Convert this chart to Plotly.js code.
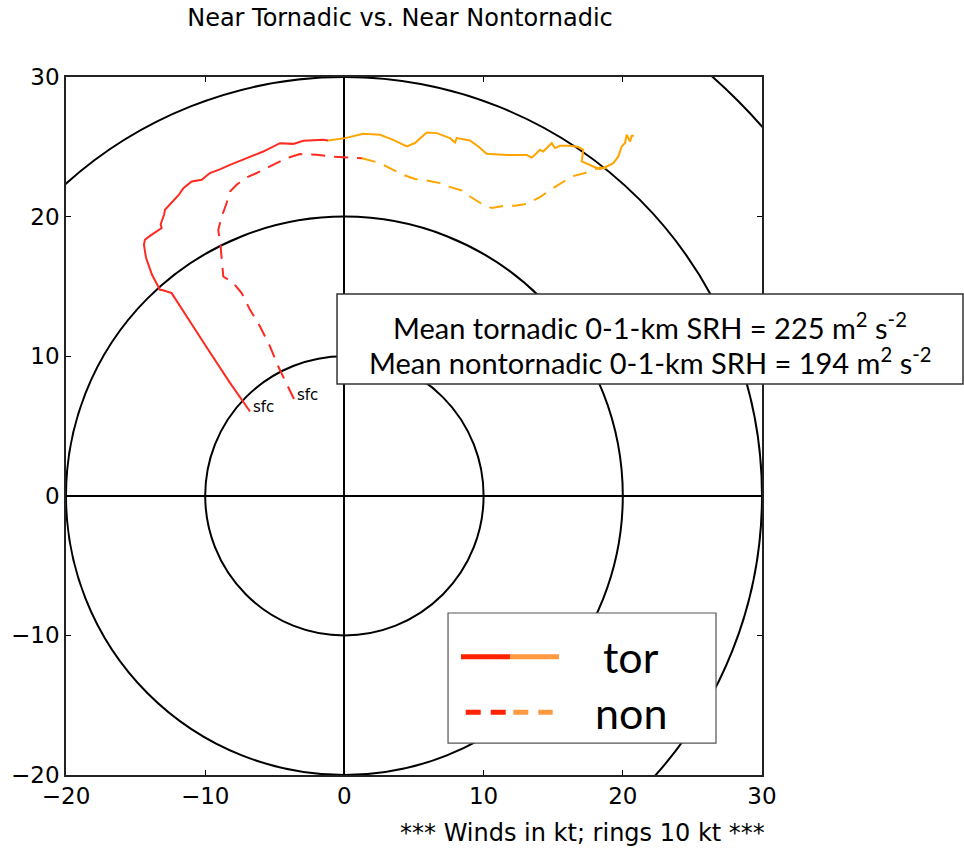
<!DOCTYPE html>
<html>
<head>
<meta charset="utf-8">
<script src="https://cdn.plot.ly/plotly-3.0.1.min.js"></script>
<style>
  html, body { margin: 0; padding: 0; background: #fff; }
  #hodo { width: 964px; height: 853px; }
</style>
</head>
<body>
<div id="hodo"></div>
<script>
// Composite hodographs (u, v in kt), surface first.
// Each profile is split into its lowest layer (red) and the layer above (orange).
const torLowU = [-6.78, -8.22, -9.78, -11.09, -12.41, -13.03, -13.25, -13.82, -14.25, -14.40, -14.33,
  -13.97, -13.48, -13.13, -13.20, -13.01, -12.95, -12.89, -12.60, -12.29, -11.90, -11.57, -10.97,
  -10.25, -9.66, -8.90, -8.22, -7.02, -5.83, -4.63, -3.67, -2.95, -1.52, -1.16];
const torLowV = [6.04, 8.09, 10.46, 12.46, 14.52, 14.72, 14.76, 15.83, 17.05, 17.98, 18.34,
  18.62, 18.93, 19.18, 19.45, 19.89, 20.15, 20.49, 20.80, 21.20, 21.55, 22.04, 22.51,
  22.64, 23.12, 23.40, 23.71, 24.19, 24.66, 25.26, 25.21, 25.43, 25.50, 25.45];
const torHighU = [-1.16, 0.04, 1.36, 2.56, 3.51, 4.48, 5.07, 5.91, 6.63, 7.59, 7.95, 8.07, 9.02,
  9.62, 10.22, 11.66, 13.10, 13.46, 13.69, 14.05, 14.29, 14.89, 15.13, 15.49, 16.21, 16.80,
  17.16, 17.05, 17.88, 18.36, 18.84, 19.32, 19.68, 19.92, 20.16, 20.28, 20.52, 20.64, 20.80];
const torHighV = [25.45, 25.62, 25.93, 25.86, 25.50, 25.02, 25.27, 26.02, 25.98, 25.62, 25.31, 25.62, 25.45,
  25.02, 24.50, 24.41, 24.41, 24.23, 24.43, 24.79, 24.66, 25.26, 24.91, 25.07, 25.07, 24.98,
  24.79, 23.95, 23.59, 23.40, 23.59, 23.83, 24.31, 25.02, 25.27, 25.86, 25.38, 25.79, 25.79];

const nonLowU = [-3.62, -4.39, -4.75, -5.34, -6.06, -6.78, -7.38, -7.98, -8.70, -8.81, -8.89,
  -9.06, -8.81, -8.46, -8.22, -7.74, -7.14, -6.30, -5.34, -4.15, -3.19, -1.99, -1.03, 0.17, 1.26];
const nonLowV = [6.93, 8.55, 9.26, 10.69, 12.13, 13.32, 14.52, 15.24, 15.71, 16.91, 17.86,
  19.05, 20.01, 20.97, 21.80, 22.28, 22.76, 23.12, 23.59, 24.19, 24.48, 24.43, 24.31, 24.23, 24.18];
const nonHighU = [1.26, 1.84, 2.56, 3.51, 4.23, 5.07, 5.91, 6.87, 7.46, 8.43, 9.02, 9.86, 10.58,
  11.42, 12.26, 13.10, 14.05, 14.89, 15.73, 16.33, 17.28, 17.88, 18.36, 18.84];
const nonHighV = [24.18, 24.02, 23.83, 23.35, 22.99, 22.69, 22.59, 22.40, 22.16, 21.87, 21.44, 20.92, 20.61,
  20.77, 20.77, 20.92, 21.40, 21.97, 22.51, 22.87, 23.12, 23.35, 23.52, 23.47];

const ringRadii = [10, 20, 30, 40];
const tickVals = [-20, -10, 0, 10, 20, 30];
const tickText = ['\u221220', '\u221210', '0', '10', '20', '30'];

const srhTor = 225;
const srhNon = 194;

const RED = '#ff2a1f';
const ORANGE = '#ffa500';
const LEG_RED = '#ff2200';
const LEG_ORANGE = '#ff9a40';

const TICK_FONT = { family: 'DejaVu Sans', size: 23, color: '#000' };
const GILL = 'Lato, "Open Sans", sans-serif';

function hodoTrace(u, v, color, dash) {
  return {
    type: 'scatter', mode: 'lines', x: u, y: v, hoverinfo: 'skip', showlegend: false,
    line: { color: color, width: 2, dash: dash, shape: 'linear' }
  };
}

const traces = [
  hodoTrace(torLowU, torLowV, RED, 'solid'),
  hodoTrace(torHighU, torHighV, ORANGE, 'solid'),
  hodoTrace(nonLowU, nonLowV, RED, '14px,9px'),
  hodoTrace(nonHighU, nonHighV, ORANGE, '14px,9px')
];

// speed rings
const shapes = ringRadii.map(r => ({
  type: 'circle', xref: 'x', yref: 'y', x0: -r, y0: -r, x1: r, y1: r,
  line: { color: '#000', width: 2 }, layer: 'below'
}));

// SRH box
shapes.push({
  type: 'rect', xref: 'paper', yref: 'paper', x0: 0.3894, x1: 1.2888, y0: 0.5602, y1: 0.6891,
  fillcolor: '#fff', line: { color: '#333', width: 1.5 }, layer: 'above'
});
// legend box and samples
shapes.push({
  type: 'rect', xref: 'paper', yref: 'paper', x0: 0.5489, x1: 0.9339, y0: 0.0458, y1: 0.2321,
  fillcolor: '#fff', line: { color: '#555', width: 1.2 }, layer: 'above'
});
shapes.push({ type: 'line', xref: 'paper', yref: 'paper', x0: 0.5675, x1: 0.6379, y0: 0.1695, y1: 0.1695,
  line: { color: LEG_RED, width: 5 }, layer: 'above' });
shapes.push({ type: 'line', xref: 'paper', yref: 'paper', x0: 0.6379, x1: 0.7083, y0: 0.1695, y1: 0.1695,
  line: { color: LEG_ORANGE, width: 5 }, layer: 'above' });
shapes.push({ type: 'line', xref: 'paper', yref: 'paper', x0: 0.5743, x1: 0.6318, y0: 0.0898, y1: 0.0898,
  line: { color: LEG_RED, width: 5, dash: '15px,10px' }, layer: 'above' });
shapes.push({ type: 'line', xref: 'paper', yref: 'paper', x0: 0.6427, x1: 0.6993, y0: 0.0898, y1: 0.0898,
  line: { color: LEG_ORANGE, width: 5, dash: '15px,10px' }, layer: 'above' });

const annotations = [
  { xref: 'x', yref: 'y', x: torLowU[0], y: torLowV[0], text: 'sfc', showarrow: false,
    xanchor: 'left', yanchor: 'middle', xshift: 1, yshift: 4,
    font: { family: 'DejaVu Sans', size: 15, color: '#000' } },
  { xref: 'x', yref: 'y', x: nonLowU[0], y: nonLowV[0], text: 'sfc', showarrow: false,
    xanchor: 'left', yanchor: 'middle', xshift: 1, yshift: 4,
    font: { family: 'DejaVu Sans', size: 15, color: '#000' } },
  { xref: 'paper', yref: 'paper', x: 0.8391, y: 0.6433, text: 'Mean tornadic 0-1-km SRH = ' + srhTor + ' m<sup>2</sup> s<sup>-2</sup>',
    showarrow: false, xanchor: 'center', yanchor: 'middle', font: { family: GILL, size: 29, color: '#000' } },
  { xref: 'paper', yref: 'paper', x: 0.8391, y: 0.5932, text: 'Mean nontornadic 0-1-km SRH = ' + srhNon + ' m<sup>2</sup> s<sup>-2</sup>',
    showarrow: false, xanchor: 'center', yanchor: 'middle', font: { family: GILL, size: 29, color: '#000' } },
  { xref: 'paper', yref: 'paper', x: 0.8118, y: 0.1700, text: 'tor', showarrow: false,
    xanchor: 'center', yanchor: 'middle', font: { family: GILL, size: 43, color: '#000' } },
  { xref: 'paper', yref: 'paper', x: 0.8118, y: 0.0890, text: 'non', showarrow: false,
    xanchor: 'center', yanchor: 'middle', font: { family: GILL, size: 43, color: '#000' } },
  { xref: 'paper', yref: 'paper', x: 0.7428, y: -0.0831, text: '*** Winds in kt; rings 10 kt ***',
    showarrow: false, xanchor: 'center', yanchor: 'middle', font: { family: 'DejaVu Sans', size: 24, color: '#000' } }
];

const axisCommon = {
  range: [-20, 30], tickmode: 'array', tickvals: tickVals, ticktext: tickText,
  ticks: 'inside', ticklen: 5, tickwidth: 1, tickcolor: '#000',
  showline: true, linecolor: '#222', linewidth: 1.8, mirror: 'ticks',
  showgrid: false, zeroline: true, zerolinecolor: '#000', zerolinewidth: 2,
  tickfont: TICK_FONT, fixedrange: true
};

const layout = {
  width: 964, height: 853,
  margin: { l: 66, r: 202, t: 77, b: 78 },
  paper_bgcolor: '#fff', plot_bgcolor: '#fff',
  title: { text: 'Near Tornadic vs. Near Nontornadic', x: 0.4149, xref: 'container', xanchor: 'center',
    y: 0.979, yref: 'container', yanchor: 'middle', font: { family: 'DejaVu Sans', size: 24, color: '#000' } },
  xaxis: Object.assign({}, axisCommon),
  yaxis: Object.assign({}, axisCommon),
  shapes: shapes,
  annotations: annotations,
  showlegend: false
};

Plotly.newPlot('hodo', traces, layout, { displayModeBar: false, staticPlot: true });
</script>
</body>
</html>
